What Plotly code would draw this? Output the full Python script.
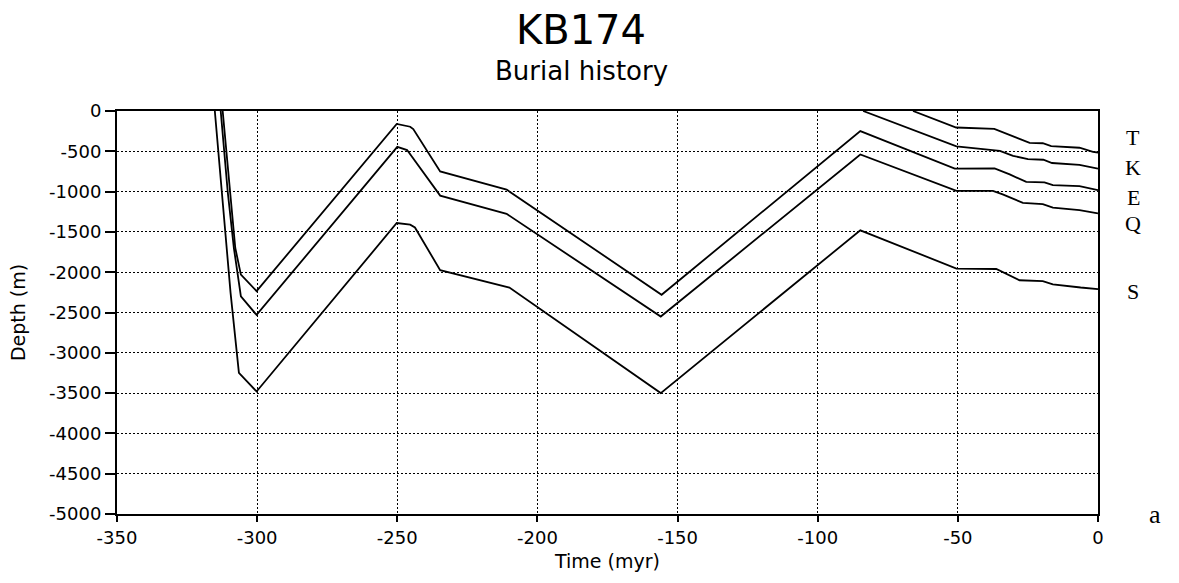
import plotly.graph_objects as go

# Time (myr) and depth (m) for each horizon
S_t = [-315.1, -309.5, -306.5, -300.2, -250.2, -245.4, -243.7, -234.7, -210.0, -156.0,
       -84.8, -50.5, -36.3, -31.6, -28.0, -19.7, -16.1, -6.2, 0.0]
S_d = [0, -2250, -3250, -3480, -1390, -1410, -1445, -1975, -2190, -3500,
       -1480, -1955, -1960, -2045, -2100, -2110, -2150, -2190, -2210]

Q_t = [-313.0, -310.5, -308.3, -305.8, -300.2, -250.0, -246.5, -234.7, -211.0, -156.0,
       -84.8, -50.5, -37.5, -34.0, -26.8, -19.7, -16.1, -6.6, 0.0]
Q_d = [0, -1000, -1700, -2300, -2530, -445, -485, -1050, -1276, -2550,
       -540, -990, -990, -1035, -1140, -1155, -1200, -1230, -1270]

E_t = [-312.3, -309.8, -307.8, -305.8, -300.2, -250.2, -245.4, -244.3, -234.7, -211.0, -155.7,
       -84.8, -51.1, -36.9, -34.5, -31.5, -25.6, -19.1, -16.1, -6.6, 0.0]
E_d = [0, -1000, -1700, -2030, -2235, -160, -195, -225, -750, -975, -2280,
       -250, -714, -712, -745, -786, -880, -885, -920, -932, -982]

K_t = [-83.8, -50.5, -35.0, -30.3, -25.0, -19.5, -16.4, -6.6, 0.0]
K_d = [0, -440, -494, -556, -598, -605, -645, -668, -716]

T_t = [-66.0, -50.6, -37.0, -24.4, -19.7, -16.7, -6.6, -1.8, 0.0]
T_d = [0, -205, -222, -395, -400, -435, -456, -506, -515]

horizons = [("T", T_t, T_d), ("K", K_t, K_d), ("E", E_t, E_d), ("Q", Q_t, Q_d), ("S", S_t, S_d)]

# label positions (depth) for the horizon letters at the right
label_names = ["T", "K", "E", "Q", "S"]
label_depths = [-326, -703, -1071, -1400, -2242]

x_ticks = [-350, -300, -250, -200, -150, -100, -50, 0]
y_ticks = [0, -500, -1000, -1500, -2000, -2500, -3000, -3500, -4000, -4500, -5000]

FONT = "DejaVu Sans"

fig = go.Figure()
for name, t, d in horizons:
    fig.add_trace(go.Scatter(x=t, y=d, mode="lines", name=name,
                             line=dict(color="black", width=1.8), showlegend=False))

grid = dict(showgrid=True, gridcolor="black", gridwidth=1.3, griddash="2px,2px",
            showline=True, linecolor="black", linewidth=2, mirror=True,
            ticks="outside", tickcolor="black", zeroline=False,
            tickfont=dict(family=FONT, size=18, color="black"))

fig.update_xaxes(range=[-350, 0], tickvals=x_ticks, ticktext=[str(v) for v in x_ticks],
                 ticklen=6, tickwidth=1.5,
                 title=dict(text="Time (myr)", font=dict(family=FONT, size=19, color="black"), standoff=8),
                 **grid)
fig.update_yaxes(range=[-5000, 0], tickvals=y_ticks, ticktext=[str(v) for v in y_ticks],
                 ticklen=10, tickwidth=1.5,
                 title=dict(text="Depth (m)", font=dict(family=FONT, size=19, color="black"), standoff=18),
                 **grid)

annotations = [
    dict(text="KB174", xref="paper", yref="paper", x=0.473, y=1.201, xanchor="center", yanchor="middle",
         showarrow=False, font=dict(family=FONT, size=40, color="black")),
    dict(text="Burial history", xref="paper", yref="paper", x=0.473, y=1.10, xanchor="center", yanchor="middle",
         showarrow=False, font=dict(family=FONT, size=26, color="black")),
    dict(text="a", xref="paper", yref="paper", x=1.058, y=0.0, xanchor="center", yanchor="middle",
         showarrow=False, font=dict(family="Liberation Serif", size=26, color="black")),
]
for nm, dep in zip(label_names, label_depths):
    annotations.append(dict(text=nm, xref="paper", yref="y", x=1.036, y=dep, xanchor="center",
                            yanchor="middle", showarrow=False,
                            font=dict(family="Liberation Serif", size=22, color="black")))

fig.update_layout(width=1179, height=583, margin=dict(l=117, r=81, t=111, b=69),
                  paper_bgcolor="white", plot_bgcolor="white", annotations=annotations,
                  font=dict(family=FONT, color="black"))

fig.write_html("out.html")
